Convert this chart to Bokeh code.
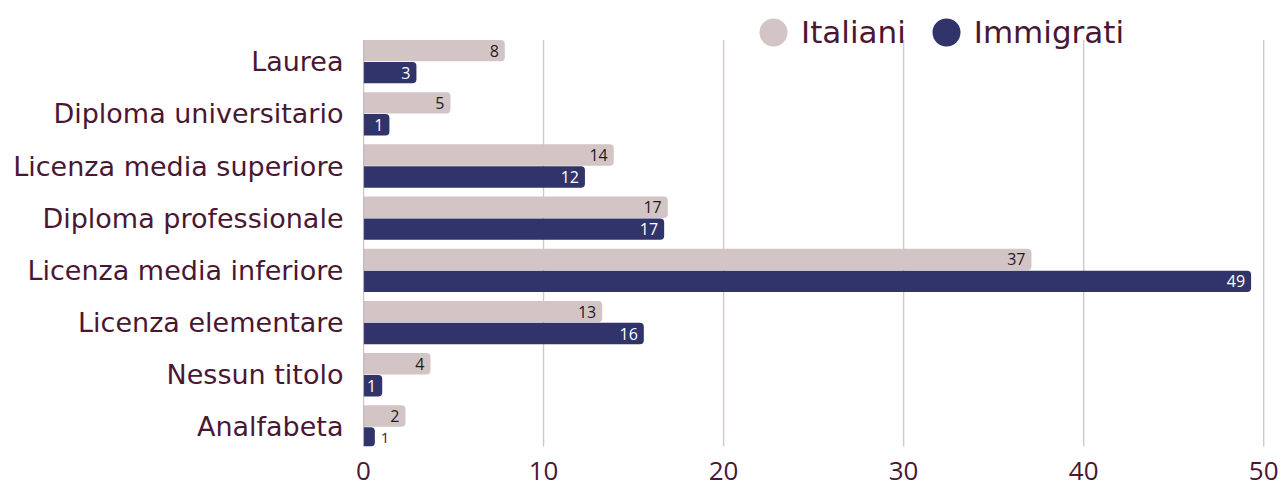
from bokeh.plotting import figure
from bokeh.models import ColumnDataSource, Range1d, Legend, LegendItem, FixedTicker
from bokeh.embed import file_html
from bokeh.resources import INLINE

categories = ["Laurea", "Diploma universitario", "Licenza media superiore",
              "Diploma professionale", "Licenza media inferiore",
              "Licenza elementare", "Nessun titolo", "Analfabeta"]
italiani = [7.85, 4.83, 13.9, 16.9, 37.1, 13.26, 3.72, 2.33]
immigrati = [2.94, 1.44, 12.3, 16.7, 49.3, 15.57, 1.04, 0.63]
x_ticks = [0, 10, 20, 30, 40, 50]

C_ITA = "#d3c5c5"
C_IMM = "#30346b"
C_TXT = "#4a1733"
C_GRID = "#d3c7cb"
C_ZERO = "#9a8690"
FONT = "DejaVu Sans"
NUM_FONT = "Open Sans"

n = len(categories)
ypos = [n - 1 - i for i in range(n)]          # first category on top
OFF = 0.21                                     # dodge of the two bars
BH = 0.41                                      # bar height (row units)
y_ita = [y + OFF for y in ypos]
y_imm = [y - OFF for y in ypos]

src = ColumnDataSource(dict(
    ita=italiani, imm=immigrati, y_ita=y_ita, y_imm=y_imm,
    ita_lbl=[f"{v:.0f}" for v in italiani],
))
inside = [v >= 0.9 for v in immigrati]
src_in = ColumnDataSource(dict(
    imm=[v for v, k in zip(immigrati, inside) if k],
    y=[y for y, k in zip(y_imm, inside) if k],
    lbl=[f"{v:.0f}" for v, k in zip(immigrati, inside) if k],
))
src_out = ColumnDataSource(dict(
    imm=[v for v, k in zip(immigrati, inside) if not k],
    y=[y for y, k in zip(y_imm, inside) if not k],
    lbl=[f"{v:.0f}" for v, k in zip(immigrati, inside) if not k],
))

p = figure(width=1285, height=482, output_backend="svg", toolbar_location=None,
           y_range=Range1d(-0.374, n - 0.5 + 0.671),
           x_range=Range1d(0, 50.1),
           min_border_left=363, min_border_right=20, min_border_top=0,
           min_border_bottom=20)
p.outline_line_color = None
p.background_fill_color = "white"

# grid lines spanning the bar block only
lo = min(ypos) - OFF - BH / 2
hi = max(ypos) + OFF + BH / 2
grid_x = [t for t in x_ticks if t > 0]
p.segment(x0=grid_x, x1=grid_x, y0=[lo] * len(grid_x), y1=[hi] * len(grid_x),
          line_color=C_GRID, line_width=1.4)

p.hbar(y="y_ita", right="ita", left=0, height=BH, source=src,
       fill_color=C_ITA, line_color=None, border_radius=(0, 4, 4, 0))
p.hbar(y="y_imm", right="imm", left=0, height=BH, source=src,
       fill_color=C_IMM, line_color=None, border_radius=(0, 4, 4, 0))

p.segment(x0=[x_ticks[0]], x1=[x_ticks[0]], y0=[lo], y1=[hi],
          line_color=C_ZERO, line_width=1.2)

p.text(x="ita", y="y_ita", text="ita_lbl", source=src,
       text_align="right", text_baseline="middle", x_offset=-6,
       text_font_size="16px", text_color="#1b1b1b", text_font={"value": NUM_FONT})
p.text(x="imm", y="y", text="lbl", source=src_in,
       text_align="right", text_baseline="middle", x_offset=-6,
       text_font_size="16px", text_color="white", text_font={"value": NUM_FONT})
p.text(x="imm", y="y", text="lbl", source=src_out,
       text_align="left", text_baseline="middle", x_offset=6,
       text_font_size="15px", text_color=C_TXT, text_font={"value": NUM_FONT})

# hidden marker renderers: only their legend glyphs are drawn
leg_ita = p.scatter(x="ita", y="y_ita", source=src, marker="circle",
                    fill_color=C_ITA, line_color=C_ITA, line_width=8, visible=False)
leg_imm = p.scatter(x="imm", y="y_imm", source=src, marker="circle",
                    fill_color=C_IMM, line_color=C_IMM, line_width=8, visible=False)

legend = Legend(items=[LegendItem(label="Italiani", renderers=[leg_ita]),
                       LegendItem(label="Immigrati", renderers=[leg_imm])],
                orientation="horizontal", location=(385, 389),
                glyph_width=50, glyph_height=50, label_standoff=3, spacing=15,
                padding=0, margin=0, background_fill_alpha=0, border_line_alpha=0,
                label_text_font=FONT, label_text_font_size="31px",
                label_text_color=C_TXT, label_text_baseline="middle")
p.add_layout(legend, "center")

p.xgrid.grid_line_color = None
p.ygrid.grid_line_color = None

p.xaxis.ticker = FixedTicker(ticks=x_ticks)
p.xaxis.axis_line_color = None
p.xaxis.major_tick_line_color = None
p.xaxis.minor_tick_line_color = None
p.xaxis.major_label_text_font = NUM_FONT
p.xaxis.major_label_text_font_size = "26px"
p.xaxis.major_label_text_color = C_TXT
p.xaxis.major_label_standoff = 9

p.yaxis.ticker = FixedTicker(ticks=ypos)
p.yaxis.major_label_overrides = {y: c for y, c in zip(ypos, categories)}
p.yaxis.axis_line_color = None
p.yaxis.major_tick_line_color = None
p.yaxis.minor_tick_line_color = None
p.yaxis.major_label_text_font = FONT
p.yaxis.major_label_text_font_size = "27px"
p.yaxis.major_label_text_color = C_TXT
p.yaxis.major_label_standoff = 14

open("out.html", "w").write(file_html(p, INLINE))
